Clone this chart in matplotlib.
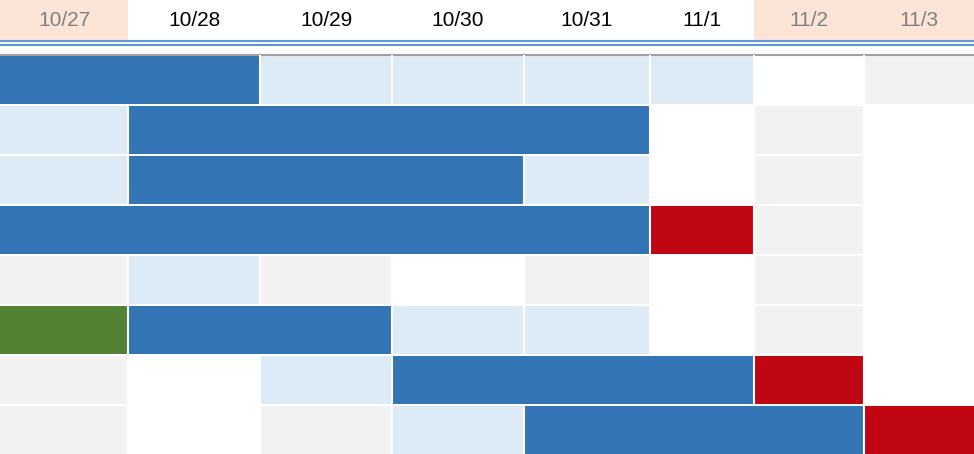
import matplotlib.pyplot as plt
from matplotlib.patches import Rectangle

dates = ['10/27', '10/28', '10/29', '10/30', '10/31', '11/1', '11/2', '11/3']
weekend = [True, False, False, False, False, False, True, True]
# column edges in pixels
edges = [0, 128, 260, 392, 524, 650, 754, 864, 974]

# cell codes: w white, g grey, l light blue, b blue, r red, G green
rows = [
    'bbllllwgw',
    'lbbbbwgw',
    'lbbblwgw',
    'bbbbbrgw',
    'glgwgwgw',
    'Gbbllwgw',
    'gwlbbbrw',
    'gwglbbbr',
]
colors = {'w': '#ffffff', 'g': '#f2f2f2', 'l': '#ddebf7', 'b': '#3375b4',
          'r': '#c00613', 'G': '#548235'}

W, H = 974, 454
fig = plt.figure(figsize=(W / 100, H / 100), dpi=100)
ax = fig.add_axes([0, 0, 1, 1])
ax.set_xlim(0, W)
ax.set_ylim(H, 0)
ax.axis('off')

for i, d in enumerate(dates):
    x0, x1 = edges[i], edges[i + 1]
    if weekend[i]:
        ax.add_patch(Rectangle((x0, 0), x1 - x0, 40, color='#fce4d6', lw=0))
    ax.text((x0 + x1) / 2, 20, d, ha='center', va='center', fontsize=15,
            color='#808080' if weekend[i] else 'black', family='Liberation Sans')

ax.plot([0, W], [41, 41], color='#5b9bd5', lw=1.5)
ax.plot([0, W], [45, 45], color='#5b9bd5', lw=1.5)
ax.plot([0, W], [54.5, 54.5], color='#a0a0a0', lw=1.5)

top = 56
rh = 50
for r, row in enumerate(rows):
    y = top + r * rh
    for c in range(8):
        code = row[c]
        ax.add_patch(Rectangle((edges[c], y), edges[c + 1] - edges[c], rh - 2,
                               color=colors[code], lw=0))
    # white separators between non-blue neighbours
    for c in range(1, 8):
        if not (row[c - 1] == 'b' and row[c] == 'b'):
            ax.plot([edges[c], edges[c]], [y, y + rh - 2], color='white', lw=1.5)

fig.savefig('out.png', dpi=100)
